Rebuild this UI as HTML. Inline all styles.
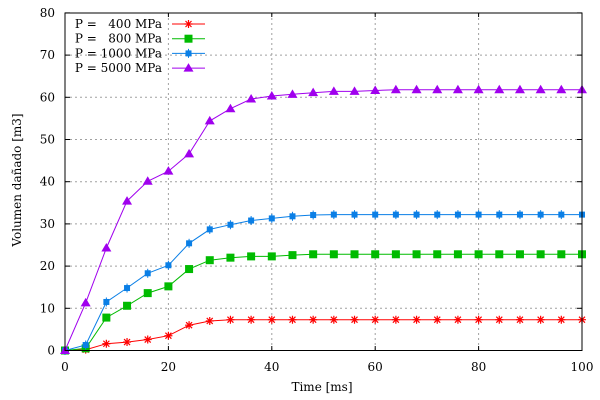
<!DOCTYPE html>
<html><head><meta charset="utf-8"><style>body{margin:0;background:#fff}svg{display:block}text{font-family:"DejaVu Serif","Liberation Serif",serif;font-size:12px;fill:#000}</style></head>
<body><svg id="s" width="600" height="400" xmlns="http://www.w3.org/2000/svg"></svg>
<script>
const s=document.getElementById('s');let h='';
const X=t=>65+t*5.17, Y=v=>350.5-v*4.22;
h+='<rect x="0" y="0" width="600" height="400" fill="#fff"/>';
for(let t=20;t<100;t+=20)h+=`<line x1="${X(t)}" y1="13" x2="${X(t)}" y2="350.5" stroke="#a0a0a0" stroke-dasharray="2,3"/>`;
for(let v=10;v<80;v+=10)h+=`<line x1="65" y1="${Y(v)}" x2="582" y2="${Y(v)}" stroke="#a0a0a0" stroke-dasharray="2,3"/>`;
for(let t=0;t<=100;t+=20){h+=`<text x="${X(t)}" y="371" text-anchor="middle">${t}</text><line x1="${X(t)}" y1="350.5" x2="${X(t)}" y2="346" stroke="#000"/><line x1="${X(t)}" y1="13" x2="${X(t)}" y2="17" stroke="#000"/>`;}
for(let v=0;v<=80;v+=10){h+=`<text x="55" y="${Y(v)+4}" text-anchor="end">${v}</text><line x1="65" y1="${Y(v)}" x2="70" y2="${Y(v)}" stroke="#000"/><line x1="582" y1="${Y(v)}" x2="577" y2="${Y(v)}" stroke="#000"/>`;}
h+='<text x="322" y="391" text-anchor="middle">Time [ms]</text>';
h+='<text transform="translate(21,180) rotate(-90)" text-anchor="middle">Volumen dañado [m3]</text>';
const fill=(a,n)=>{while(a.length<n)a.push(a[a.length-1]);return a};
const S=[
 {c:'#ff0000',m:'star',d:fill([0,0.2,1.6,2,2.6,3.5,6,7,7.3],26),l:'P =   400 MPa'},
 {c:'#00bb00',m:'sq',d:fill([0,0.5,7.8,10.6,13.6,15.2,19.3,21.4,22,22.3,22.3,22.6,22.8],26),l:'P =   800 MPa'},
 {c:'#0a7fe6',m:'plus',d:fill([0,1.3,11.5,14.8,18.3,20.2,25.4,28.7,29.8,30.8,31.3,31.8,32.1,32.2],26),l:'P = 1000 MPa'},
 {c:'#a000ee',m:'tri',d:fill([0,11.3,24.3,35.4,40.1,42.5,46.6,54.4,57.3,59.6,60.3,60.7,61.1,61.4,61.4,61.6,61.8],26),l:'P = 5000 MPa'}];
function mk(m,x,y,c){
 if(m=='star')return `<path d="M${x-4} ${y}h8M${x} ${y-4}v8M${x-3} ${y-3}l6 6M${x-3} ${y+3}l6 -6" stroke="${c}" stroke-width="1.2"/>`;
 if(m=='sq')return `<rect x="${x-4}" y="${y-4}" width="8" height="8" fill="${c}"/>`;
 if(m=='plus')return `<rect x="${x-3}" y="${y-3}" width="6" height="6" fill="${c}"/><path d="M${x} ${y-4.5}v9" stroke="${c}"/>`;
 return `<path d="M${x} ${y-5}L${x+5} ${y+3.5}L${x-5} ${y+3.5}Z" fill="${c}"/>`;
}
S.forEach((o,i)=>{
 let p=o.d.map((v,k)=>X(k*4).toFixed(1)+','+Y(v).toFixed(1)).join(' ');
 h+=`<polyline points="${p}" fill="none" stroke="${o.c}" stroke-width="1"/>`;
 o.d.forEach((v,k)=>h+=mk(o.m,X(k*4),Y(v),o.c));
 const ly=24+i*14.7;
 h+=`<text x="162" y="${ly+4}" text-anchor="end" xml:space="preserve">${o.l}</text><line x1="172" y1="${ly}" x2="205" y2="${ly}" stroke="${o.c}"/>`+mk(o.m,188.5,ly,o.c);
});
h+='<rect x="65" y="13" width="517" height="337.5" fill="none" stroke="#000"/>';
s.innerHTML=h;
</script></body></html>
